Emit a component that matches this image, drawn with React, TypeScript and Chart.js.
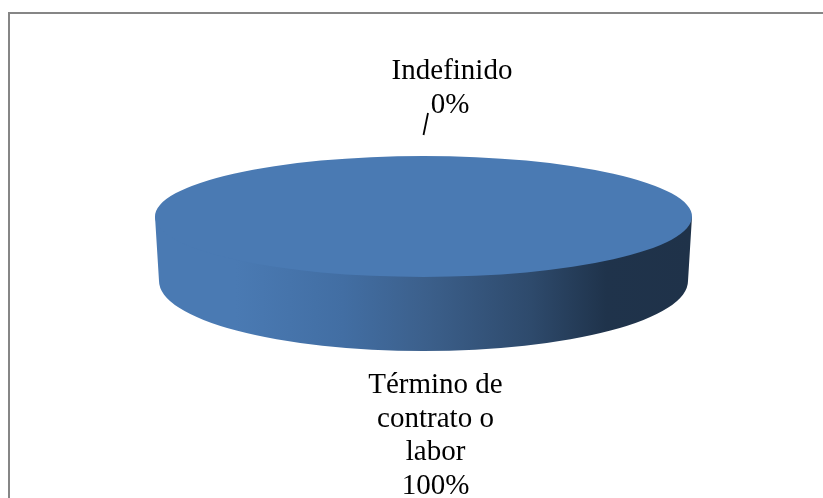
import React, { useEffect, useRef } from "react";
import { Chart, registerables } from "chart.js";

Chart.register(...registerables);

const categories = ["Término de contrato o labor", "Indefinido"];
const seriesValues = [100, 0];
const percentLabels = ["100%", "0%"];
const bottomLabelLines = ["Término de", "contrato o", "labor", "100%"];
const topLabelLines = ["Indefinido", "0%"];

const CAP_COLOR = "#4a7ab3";
const SQUASH = 60.5 / 268.5;

const pie3d = {
  id: "pie3d",
  beforeDraw(chart: any) {
    const { ctx, width, height } = chart;
    ctx.save();
    ctx.fillStyle = "#ffffff";
    ctx.fillRect(0, 0, width, height);
    ctx.strokeStyle = "#868686";
    ctx.lineWidth = 2;
    ctx.beginPath();
    ctx.moveTo(9, height);
    ctx.lineTo(9, 13);
    ctx.lineTo(width, 13);
    ctx.stroke();
    ctx.restore();
  },
  beforeDatasetsDraw(chart: any) {
    const { ctx } = chart;
    const arc = chart.getDatasetMeta(0).data[0];
    const { x, y, outerRadius: r } = arc;
    const left = x - r;
    const right = x + r;
    const wallCy = y + 64.5;
    const wallRx = r - 4;
    const wallRy = 70;
    const g = ctx.createLinearGradient(left, 0, right, 0);
    g.addColorStop(0, "#4a7ab3");
    g.addColorStop(0.15, "#4a7ab3");
    g.addColorStop(0.35, "#426ea3");
    g.addColorStop(0.5, "#3c608c");
    g.addColorStop(0.7, "#2e4a6c");
    g.addColorStop(0.84, "#1f334b");
    g.addColorStop(1, "#1f3249");
    ctx.save();
    ctx.beginPath();
    ctx.moveTo(left, y);
    ctx.lineTo(x - wallRx, wallCy);
    ctx.ellipse(x, wallCy, wallRx, wallRy, 0, Math.PI, 0, true);
    ctx.lineTo(right, y);
    ctx.closePath();
    ctx.fillStyle = g;
    ctx.fill();
    ctx.restore();
    ctx.save();
    ctx.translate(x, y);
    ctx.scale(1, SQUASH);
    ctx.translate(-x, -y);
  },
  afterDatasetsDraw(chart: any) {
    const { ctx } = chart;
    ctx.restore();
    ctx.save();
    ctx.strokeStyle = "#000000";
    ctx.lineWidth = 1.8;
    ctx.beginPath();
    ctx.moveTo(423.5, 135);
    ctx.lineTo(428, 113);
    ctx.stroke();
    ctx.fillStyle = "#000000";
    ctx.font = '29px "Liberation Serif"';
    ctx.textAlign = "center";
    ctx.textBaseline = "alphabetic";
    topLabelLines.forEach((t, i) => ctx.fillText(t, i === 0 ? 452 : 450, 79 + i * 33.7));
    bottomLabelLines.forEach((t, i) => ctx.fillText(t, 435.5, 393 + i * 33.5));
    ctx.restore();
  },
};

export default function App() {
  const ref = useRef<HTMLCanvasElement>(null);
  useEffect(() => {
    const chart = new Chart(ref.current!, {
      type: "pie",
      data: {
        labels: categories,
        datasets: [
          {
            data: seriesValues,
            backgroundColor: [CAP_COLOR, "#b0413e"],
            borderWidth: 0,
            radius: 268.5,
          },
        ],
      },
      options: {
        responsive: false,
        animation: false,
        layout: { padding: { left: 24, bottom: 65 } },
        plugins: {
          legend: { display: false },
          tooltip: { enabled: false },
          title: { display: false },
        },
      },
      plugins: [pie3d],
    } as any);
    return () => chart.destroy();
  }, []);
  return (
    <canvas
      ref={ref}
      width={823}
      height={498}
      style={{ position: "fixed", left: 0, top: 0, width: 823, height: 498, display: "block" }}
      aria-label={`${categories[0]} ${percentLabels[0]}, ${categories[1]} ${percentLabels[1]}`}
    />
  );
}
